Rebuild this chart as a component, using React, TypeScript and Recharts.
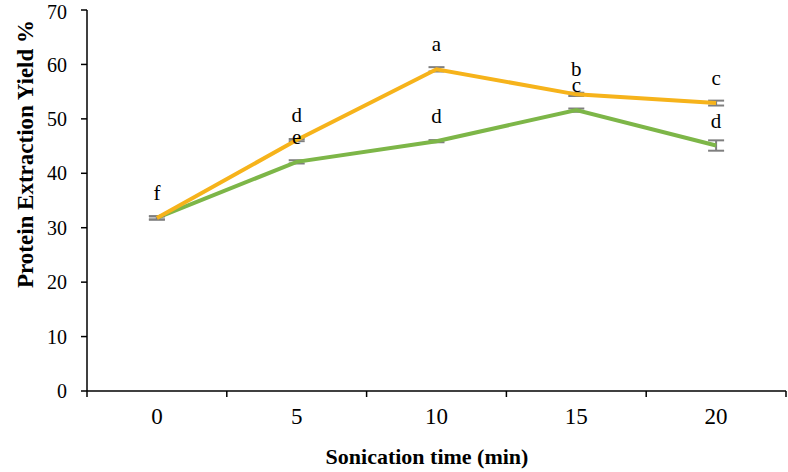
import React from 'react';
import { LineChart, Line, XAxis, YAxis, ErrorBar, LabelList } from 'recharts';

// sonication time categories (min)
const times = [0, 5, 10, 15, 20];
// protein extraction yield % for the two series
const orangeYield = [31.8, 46.1, 59.1, 54.5, 52.9];
const greenYield = [31.8, 42.1, 45.9, 51.6, 45.1];
// standard errors
const orangeErr = [0.3, 0.2, 0.4, 0.3, 0.45];
const greenErr = [0.3, 0.3, 0.2, 0.3, 0.95];
// significance letters
const orangeLetters = ['f', 'd', 'a', 'b', 'c'];
const greenLetters = ['', 'e', 'd', 'c', 'd'];
// axis ticks
const yTicks = [0, 10, 20, 30, 40, 50, 60, 70];
const xBoundaryTicks = [-2.5, 2.5, 7.5, 12.5, 17.5, 22.5];

const ORANGE = '#F6B31B';
const GREEN = '#7DB648';
const FONT = '"Times New Roman", "Liberation Serif", serif';

const chartData = times.map((t, i) => ({
  time: t,
  orange: orangeYield[i],
  green: greenYield[i],
  orangeErr: orangeErr[i],
  greenErr: greenErr[i],
  orangeLetter: orangeLetters[i],
  greenLetter: greenLetters[i],
}));

// letters drawn above each point
const LetterLabel: React.FC<any> = ({ x, y, value }) => {
  if (!value) return null;
  return (
    <text x={x} y={y - 18} textAnchor="middle" fontFamily={FONT} fontSize={21} fill="#000">
      {value}
    </text>
  );
};

// tick marks sit between categories, labels centred in each band
const CategoryTick: React.FC<any> = ({ x, y, payload, index, width }) => {
  if (index >= times.length) return <g />;
  const half = (width ?? 699) / (times.length * 2);
  return (
    <text x={x + half} y={y} dy="0.71em" textAnchor="middle" fontFamily={FONT} fontSize={23} fill="#000">
      {payload.value + 2.5}
    </text>
  );
};

const App: React.FC = () => {
  return (
    <div style={{ position: 'absolute', left: 0, top: 0, width: 788, height: 472, background: '#fff' }}>
      <LineChart width={788} height={472} data={chartData} margin={{ top: 10, right: 2, bottom: 0, left: 0 }}>
        <XAxis
          dataKey="time"
          type="number"
          domain={[-2.5, 22.5]}
          ticks={xBoundaryTicks}
          height={81}
          stroke="#000"
          strokeWidth={1.5}
          tickSize={6}
          tickMargin={11}
          tick={<CategoryTick />}
          label={{
            content: () => (
              <text x={427} y={464} textAnchor="middle" fontFamily={FONT} fontSize={22} fontWeight="bold" fill="#000">
                Sonication time (min)
              </text>
            ),
          }}
        />
        <YAxis
          domain={[0, 70]}
          ticks={yTicks}
          width={87}
          stroke="#000"
          strokeWidth={1.5}
          tickSize={6}
          tickMargin={14}
          tick={{ fontFamily: FONT, fontSize: 20, fill: '#000' }}
          label={{
            content: () => (
              <text
                x={33}
                y={154}
                transform="rotate(-90, 33, 154)"
                textAnchor="middle"
                fontFamily={FONT}
                fontSize={23}
                fontWeight="bold"
                fill="#000"
              >
                Protein Extraction Yield %
              </text>
            ),
          }}
        />
        <Line dataKey="green" stroke={GREEN} strokeWidth={4} dot={false} isAnimationActive={false}>
          <ErrorBar dataKey="greenErr" direction="y" width={8} stroke="#7f7f7f" strokeWidth={2} />
          <LabelList dataKey="greenLetter" content={<LetterLabel />} />
        </Line>
        <Line dataKey="orange" stroke={ORANGE} strokeWidth={4} dot={false} isAnimationActive={false}>
          <ErrorBar dataKey="orangeErr" direction="y" width={8} stroke="#7f7f7f" strokeWidth={2} />
          <LabelList dataKey="orangeLetter" content={<LetterLabel />} />
        </Line>
      </LineChart>
    </div>
  );
};

export default App;
